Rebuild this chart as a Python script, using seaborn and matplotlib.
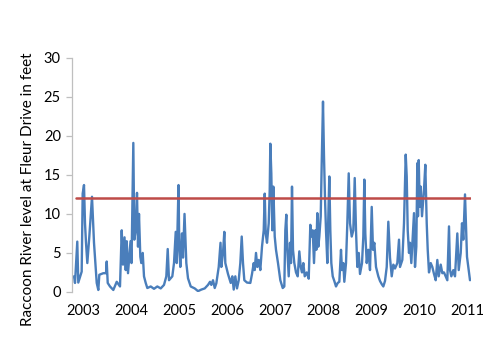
import matplotlib
matplotlib.use("Agg")
import matplotlib.pyplot as plt
import seaborn as sns
import pandas as pd

# months since January 2003
months = [
    -2.25, -2.0, -1.43, -1.18, -0.33, -0.08, 0.25, 0.5, 0.75, 1.08, 1.58, 2.25, 2.75, 3.43, 3.83, 4.08,
    5.08, 5.75, 5.93, 6.18, 6.75, 7.58, 8.43, 9.25, 9.68, 10.0, 10.38, 10.68, 10.93, 11.25, 11.88, 12.13,
    12.58, 12.83, 13.18, 13.5, 13.75, 14.0, 14.33, 14.58, 14.93, 15.25, 15.68, 16.08, 16.93, 17.75, 18.58,
    19.43, 20.25, 20.83, 21.18, 21.5, 22.33, 22.75, 23.18, 23.43, 23.88, 24.08, 24.33, 24.75, 25.0, 25.38,
    25.83, 26.25, 26.93, 27.93, 28.75, 29.58, 30.43, 31.25, 31.75, 32.08, 32.5, 32.93, 33.33, 33.93, 34.38,
    34.58, 35.0, 35.33, 35.58, 36.25, 36.93, 37.33, 37.68, 38.08, 38.5, 38.93, 39.33, 39.68, 40.0, 40.33,
    41.0, 41.83, 42.25, 42.68, 42.93, 43.25, 43.58, 43.93, 44.33, 44.75, 45.18, 45.43, 45.68, 46.0, 46.43,
    46.68, 46.83, 47.08, 47.33, 47.58, 47.93, 48.25, 48.75, 49.33, 49.93, 50.33, 50.58, 50.83, 51.08, 51.43,
    51.75, 52.0, 52.25, 52.5, 52.83, 53.25, 53.68, 54.08, 54.43, 54.75, 55.08, 55.43, 55.93, 56.43, 56.83,
    57.08, 57.43, 57.75, 58.08, 58.33, 58.58, 58.83, 59.08, 59.43, 59.68, 60.0, 60.25, 60.5, 60.75, 61.08,
    61.33, 61.58, 61.83, 62.08, 62.43, 62.83, 63.25, 63.68, 64.08, 64.5, 64.75, 65.08, 65.33, 65.75, 66.08,
    66.43, 66.75, 67.18, 67.58, 67.93, 68.25, 68.58, 68.93, 69.25, 69.75, 70.08, 70.33, 70.58, 70.93, 71.33,
    71.75, 72.18, 72.5, 72.83, 73.25, 73.83, 74.25, 74.68, 75.08, 75.5, 75.93, 76.33, 76.75, 77.18, 77.58,
    78.0, 78.58, 79.0, 79.25, 79.83, 80.25, 80.68, 80.93, 81.18, 81.5, 81.75, 82.08, 82.43, 82.75, 83.0,
    83.33, 83.58, 83.75, 83.93, 84.18, 84.43, 84.75, 85.25, 85.58, 85.93, 86.18, 86.5, 86.93, 87.33, 87.75,
    88.18, 88.58, 88.93, 89.43, 89.83, 90.25, 90.68, 91.08, 91.5, 91.75, 92.08, 92.58, 93.0, 93.58, 93.93,
    94.43, 94.75, 95.08, 95.5, 95.75, 96.0, 96.33, 96.75,
]

level_ft = [
    2.0, 1.15, 6.45, 1.2, 2.6, 12.6, 13.7, 8.8, 6.3, 3.7, 7.1, 12.2, 6.3, 1.15, 0.25, 2.2,
    2.4, 2.4, 3.9, 1.15, 0.7, 0.25, 1.3, 0.7, 7.9, 3.5, 7.0, 2.8, 6.5, 2.4, 6.5, 3.7,
    19.1, 6.7, 7.9, 12.7, 5.8, 10.0, 4.5, 3.7, 5.0, 2.0, 1.15, 0.5, 0.7, 0.4, 0.7,
    0.45, 0.9, 2.0, 5.5, 1.5, 2.0, 3.7, 7.7, 3.7, 13.7, 5.4, 3.2, 7.5, 4.4, 10.0,
    3.7, 1.75, 0.7, 0.45, 0.1, 0.3, 0.45, 0.9, 1.3, 0.9, 1.5, 0.5, 1.1, 3.2, 6.3,
    3.2, 5.0, 7.7, 3.7, 2.3, 1.15, 2.0, 0.3, 2.0, 0.45, 1.5, 3.7, 7.1, 3.7, 1.5,
    1.2, 1.15, 2.3, 3.7, 2.8, 5.0, 3.2, 4.1, 2.8, 5.8, 7.9, 12.6, 7.5, 6.3, 8.8,
    13.1, 19.0, 15.2, 7.9, 13.5, 7.1, 5.4, 3.7, 1.5, 0.5, 0.7, 7.9, 9.9, 5.4, 2.0,
    6.3, 3.7, 13.5, 5.4, 3.7, 2.5, 2.0, 5.2, 3.2, 2.5, 3.7, 2.0, 2.5, 1.7, 8.6,
    7.1, 7.9, 3.7, 7.9, 5.4, 10.1, 5.8, 7.1, 9.7, 16.5, 24.4, 17.4, 12.0, 7.9, 3.7,
    9.7, 14.8, 7.9, 3.7, 2.0, 1.4, 0.7, 1.15, 1.3, 5.4, 2.8, 3.7, 1.3, 3.7, 8.8,
    15.2, 8.8, 7.1, 7.9, 14.6, 7.9, 3.2, 5.0, 2.3, 3.7, 7.1, 14.4, 7.5, 3.7, 5.4,
    2.8, 10.9, 5.4, 6.3, 3.2, 2.0, 1.4, 1.0, 0.7, 1.4, 3.2, 9.0, 4.4, 2.0, 3.5,
    3.0, 3.7, 6.7, 3.2, 4.1, 8.8, 17.6, 14.8, 7.9, 5.0, 6.3, 3.7, 7.1, 10.1, 3.2,
    5.8, 16.5, 9.7, 16.9, 10.9, 13.5, 9.7, 13.1, 16.3, 8.8, 5.4, 2.5, 3.7, 3.2, 2.3,
    1.5, 4.1, 2.0, 3.5, 2.4, 2.5, 2.0, 1.5, 8.4, 2.8, 2.0, 2.8, 2.0, 7.5, 2.8,
    5.0, 8.8, 6.7, 12.5, 8.4, 4.5, 3.2, 1.5,
]

flood_stage = 12
year_ticks = [0, 12, 24, 36, 48, 60, 72, 84, 96]
year_labels = ["2003", "2004", "2005", "2006", "2007", "2008", "2009", "2010", "2011"]
y_ticks = [0, 5, 10, 15, 20, 25, 30]

df = pd.DataFrame({"month": months, "level": level_ft})

sns.set_style("white")
plt.rcParams["font.family"] = ["Lato", "DejaVu Sans"]

fig = plt.figure(figsize=(5.0, 3.64), dpi=100)
ax = fig.add_axes([0.144, 0.198, 0.798, 0.643])

sns.lineplot(data=df, x="month", y="level", ax=ax, color="#4A7EBB", linewidth=1.7, sort=False)
ax.axhline(flood_stage, color="#BE4B48", linewidth=1.8, xmin=0.01, xmax=1.0)

ax.set_xlim(-2.75, 97)
ax.set_ylim(0, 30)
ax.set_yticks(y_ticks)
ax.set_xticks(year_ticks)
ax.set_xticklabels(year_labels)
ax.set_xlabel("")
ax.set_ylabel("Raccoon River level at Fleur Drive in feet", fontsize=11, color="#000000")
ax.yaxis.set_label_coords(-0.093, 0.44)

for s in ["top", "right", "bottom"]:
    ax.spines[s].set_visible(False)
ax.spines["left"].set_color("#BFBFBF")
ax.spines["left"].set_linewidth(0.9)

ax.tick_params(axis="y", left=True, length=4, width=0.9, color="#BFBFBF", pad=4,
               labelsize=10.5, labelcolor="#000000")
ax.tick_params(axis="x", bottom=False, length=0, pad=9, labelsize=10.5, labelcolor="#000000")

fig.savefig("out.png", dpi=100)
